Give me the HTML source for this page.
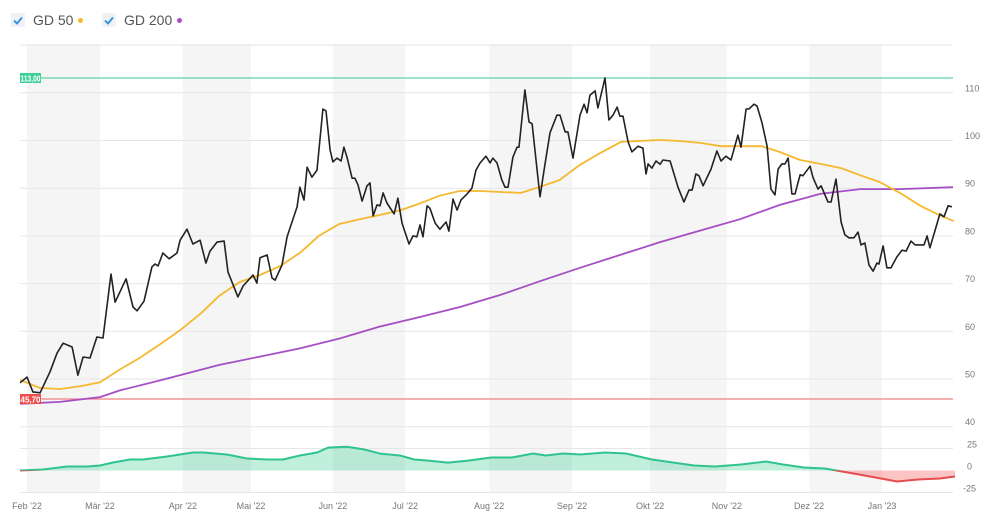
<!DOCTYPE html>
<html><head><meta charset="utf-8"><style>
html,body{margin:0;padding:0;background:#fff;width:1000px;height:516px;overflow:hidden;font-family:"Liberation Sans",sans-serif}
.leg{position:absolute;top:12px;font-size:14px;color:#555;display:flex;align-items:center}
.cb{width:14px;height:14px;background:#eef2f6;border-radius:2px;margin-right:8px;position:relative}
.dot{display:inline-block;width:5px;height:5px;border-radius:50%;margin-left:5px}
</style></head><body>
<div class="leg" style="left:11px"><div class="cb"><svg width="14" height="14"><path d="M3 7.5l3 3 5-6" stroke="#2f8fdc" stroke-width="1.8" fill="none"/></svg></div><span>GD 50</span><span class="dot" style="background:#f5b82e"></span></div>
<div class="leg" style="left:102px"><div class="cb"><svg width="14" height="14"><path d="M3 7.5l3 3 5-6" stroke="#2f8fdc" stroke-width="1.8" fill="none"/></svg></div><span>GD 200</span><span class="dot" style="background:#a64fc4"></span></div>
<svg id="c" width="1000" height="516" style="position:absolute;left:0;top:0"></svg>
<script>
const priceDays=[-2.7,0,2.3,5.1,9,11.7,14.1,17.6,19.9,21.9,24.6,27.3,29.7,32.8,34.4,38.7,41.4,43,45.7,48.8,50,51.2,53.1,55.5,58.6,59.8,62.5,64.8,67.6,69.9,71.5,74.2,77,78.5,82.4,84.4,88.3,89.8,91,93.8,95.7,96.9,99.6,101.6,105.5,106.6,108.2,109.4,111.3,113.3,115.6,116.8,118.4,119.5,121.1,122.7,123.8,125,127,128.1,129.3,130.9,132.8,134,135.2,136.7,137.9,139.1,140.6,143.4,144.9,146.5,149.2,150.8,152.3,153.5,154.7,156.3,157.4,159.4,161.3,163.7,164.8,166.4,168,169.5,171.9,173.8,175.4,177,179.3,180.9,182,183.6,185.5,186.7,187.9,189.8,191.4,192.2,194.5,196.1,197.3,200.4,202.3,204.3,207,208.2,210.2,211.3,213.3,216,217.6,218.8,219.9,221.9,223,225.8,227.3,228.9,230.5,231.6,232.8,234.8,236.3,238.7,240.6,241.8,242.6,244.1,245.7,247.3,248.4,251.2,254.3,256.6,258.6,259.8,261.3,262.5,264.1,267.2,269.5,271.1,273,275,277.7,278.9,280.9,282,284,285.2,287.1,289.1,290.6,292.2,293.4,294.9,296.1,297.3,298.8,300,302,303.1,305.9,307,309,310.2,312.9,314.1,316,318,319.5,321.1,323,324.6,325.8,327.3,328.9,330.5,332,332.8,334.4,335.9,337.5,339.8,341.8,343.4,345.3,346.9,350.4,351.6,352.7,354.3,356.6,358.2,359.8,361.3];
const priceValues=[49.1,50.3,47.2,47,51.4,55.3,57.4,56.6,50.7,54.5,54.3,58.7,58.5,71.9,66,70.9,65,64.2,66.2,73.4,74,73.6,76.3,75.1,76.3,79,81.3,78.2,79,74.2,76.7,78.6,78.8,72.3,67.1,69.4,71.7,70,75.3,75.9,71.1,70.6,73.8,79.7,86,90.1,87.4,94.3,92.2,93.7,106.5,106.1,97.9,95.4,96.2,95.6,98.5,96.4,92,92,90.6,87.2,90.4,91,84.1,86.4,86.2,88.9,86.8,84.5,87.8,82.6,78.2,79.9,79.7,82.2,79.7,86.2,85.7,82.6,81.3,82.8,80.9,87.6,85.3,87.4,88.7,89.9,93.7,95.2,96.6,95.2,96.2,95.2,91.6,90.1,90.1,96.4,98.5,98.5,110.5,103.8,103.4,88.1,94.8,101.5,105.2,105.2,101.7,101.7,96.2,105.2,107.5,105.7,109.4,110.3,106.7,113,104.2,105.2,106.9,105,105,99.6,97.5,98.7,98.3,92.9,95,94.1,95.6,94.9,95.8,95.6,90.1,87,89.5,89.5,92.9,92.5,90.4,93.9,97.7,95.6,96.6,95.8,101,98.5,106.5,106.5,107.5,107.1,103.6,98.7,89.7,88.5,93.9,95,95,96.2,88.7,88.7,92.7,92.5,94.5,92.2,89.7,90.4,87,87,91.8,82.8,80.1,79.5,79.5,80.7,78,78.4,73.8,72.5,74.2,74,77.8,73.2,73.2,75.5,76.9,76.7,78.8,78,78,79.9,77.4,80.3,84.5,83.9,86.2,86];
const gd50Days=[-2.7,5,13,21,28.5,36,44,52,60,68,75,83,91,99,107,114,122,130,138,146,153,161,169,177,185,193,200,208,216,224,232,239,247,255,263,271,279,287,294,302,310,318,325,333,341,349,357,362];
const gd50Values=[49.7,48,47.8,48.4,49.2,51.8,54.3,57.2,60.2,63.7,67.3,70.2,71.7,73.6,76.5,79.9,82.4,83.4,84.3,85.3,86.6,88.3,89.3,89.3,89.1,88.9,90.1,91.6,94.8,97.3,99.6,99.8,100,99.8,99.4,98.7,98.7,98.7,97.5,95.8,95,94.1,92.7,91.2,88.9,86.2,84.1,83];
const gd200Days=[-2.7,12.9,28.5,36.3,52,75.4,91,106.6,122.3,137.9,153.5,169.1,184.8,200.4,216,231.6,247.3,262.9,278.5,294.1,309.8,325.4,341,361.7];
const gd200Values=[44.7,45.1,46.1,47.5,49.6,52.9,54.6,56.3,58.4,60.9,62.9,65,67.5,70.4,73.2,75.9,78.6,81,83.4,86.4,88.7,89.7,89.7,90.1];
const oscDays=[-2.7,6.3,15.6,23.4,28.5,33.6,40.2,45.3,54.7,64.8,68.8,78.1,85.9,93.8,100,106.6,113.3,117.6,125,131.6,138.3,145.7,151.2,156.3,164.5,172.7,181.3,189.5,197.7,202.7,209.4,216,225.8,234,244.1,252.3,260.5,268.8,278.9,288.7,295.3,303.5,311.7,318.4,325,333.6,339.8,348,356.6,362.5];
const oscValues=[0,1.1,4.5,4.5,5.7,9.1,12.5,12.5,15.9,20.5,20.5,18.2,13.6,12.5,12.5,17,20.5,26,27,24,19,17,12.5,11.4,9,11.4,14.8,14.8,19.3,17,19.3,18.2,20.5,19.3,12.5,9.1,5.7,4.5,6.8,10.2,6.8,3.4,2.3,-1.1,-4.5,-9.1,-12.5,-10.2,-9.1,-6.8];
const mainTicks=[120,110,100,90,80,70,60,50,40];
const mainTickLabels=["","110","100","90","80","70","60","50","40"];
const oscTicks=[25,0,-25];
const oscTickLabels=["25","0","-25"];
const monthDays=[0,28.5,60.9,87.5,119.5,147.7,180.5,212.9,243.4,273.4,305.5,334];
const monthLabels=["Feb '22","Mär '22","Apr '22","Mai '22","Jun '22","Jul '22","Aug '22","Sep '22","Okt '22","Nov '22","Dez '22","Jan '23"];
const highValue=113.00, lowValue=45.70;

const X0=20,X1=953;
const xs=d=>27+d*2.56;
const ym=v=>617-v*4.77;
const yo=v=>470.5-v*22/25;
const svg=document.getElementById('c');
const NS='http://www.w3.org/2000/svg';
function mk(tag,attrs,parent){const e=document.createElementNS(NS,tag);for(const k in attrs)e.setAttribute(k,attrs[k]);(parent||svg).appendChild(e);return e;}
for(let i=0;i<monthDays.length;i+=2){
 const a=xs(monthDays[i]),b=i+1<monthDays.length?xs(monthDays[i+1]):X1;
 const r=mk('rect',{x:a,y:44,width:Math.min(b,X1)-a,height:449,fill:'#f5f5f5'});
 
 
}
mainTicks.forEach((t,i)=>{
 const g=mk('line',{x1:X0,x2:X1,y1:ym(t)+0.5,y2:ym(t)+0.5,stroke:'#e6e6e6','stroke-width':1});
 
 
 if(mainTickLabels[i]){const tx=mk('text',{x:965,y:ym(t)-1,'font-size':9,fill:'#777'});tx.textContent=mainTickLabels[i];
 
 }
});
oscTicks.forEach((t,i)=>{
 if(t!==0){const g=mk('line',{x1:X0,x2:X1,y1:yo(t),y2:yo(t),stroke:'#e6e6e6','stroke-width':1});
 
 }
 const tx=mk('text',{x:t<0?963:967,y:yo(t)-1,'font-size':9,fill:'#777'});tx.textContent=oscTickLabels[i];
 
 
});
monthDays.forEach((d,i)=>{
 const tx=mk('text',{x:xs(d),y:509,'font-size':9,fill:'#777','text-anchor':'middle'});tx.textContent=monthLabels[i];
 
 
});
function path(days,vals,f){return days.map((d,i)=>(i?'L':'M')+Math.max(X0,xs(d)).toFixed(1)+' '+f(vals[i]).toFixed(1)).join(' ');}
const hl=mk('line',{x1:X0,x2:X1,y1:ym(highValue),y2:ym(highValue),stroke:'#5fd3a6','stroke-width':1.2});


const ll=mk('line',{x1:X0,x2:X1,y1:ym(lowValue),y2:ym(lowValue),stroke:'#f08080','stroke-width':1.2});


const defs=mk('defs',{});
const cp1=mk('clipPath',{id:'pos'},defs);mk('rect',{x:0,y:0,width:1000,height:yo(0)},cp1);
const cp2=mk('clipPath',{id:'neg'},defs);mk('rect',{x:0,y:yo(0),width:1000,height:100},cp2);
const op=path(oscDays,oscValues,yo);
const area=op+` L${xs(oscDays[oscDays.length-1])} ${yo(0)} L${X0} ${yo(0)} Z`;
const a1=mk('path',{d:area,fill:'rgba(60,205,150,0.32)','clip-path':'url(#pos)'});


const a2=mk('path',{d:area,fill:'rgba(245,110,110,0.4)','clip-path':'url(#neg)'});


const l1=mk('path',{d:op,fill:'none',stroke:'#2fc48d','stroke-width':2,'clip-path':'url(#pos)'});


const l2=mk('path',{d:op,fill:'none',stroke:'#e84c4c','stroke-width':2,'clip-path':'url(#neg)'});


const p200=mk('path',{d:path(gd200Days,gd200Values,ym),fill:'none',stroke:'#a64fc4','stroke-width':1.8});


const p50=mk('path',{d:path(gd50Days,gd50Values,ym),fill:'none',stroke:'#f5b82e','stroke-width':1.8});


const pp=mk('path',{d:path(priceDays,priceValues,ym),fill:'none',stroke:'#222','stroke-width':1.6,'stroke-linejoin':'round'});


function badge(v,txt,col,name){
 const g=mk('g',{});
 
 
 mk('rect',{x:20,y:ym(v)-5,width:21,height:10,fill:col},g);
 const t=mk('text',{x:30.5,y:ym(v)+3.5,'font-size':8.5,'font-weight':'bold',fill:'#fff','text-anchor':'middle','textLength':20,'lengthAdjust':'spacingAndGlyphs'},g);t.textContent=txt;
}
badge(highValue,'113,00','#3ccf98','high-label');
badge(lowValue,'45,70','#ee4f4f','low-label');
</script>
</body></html>
